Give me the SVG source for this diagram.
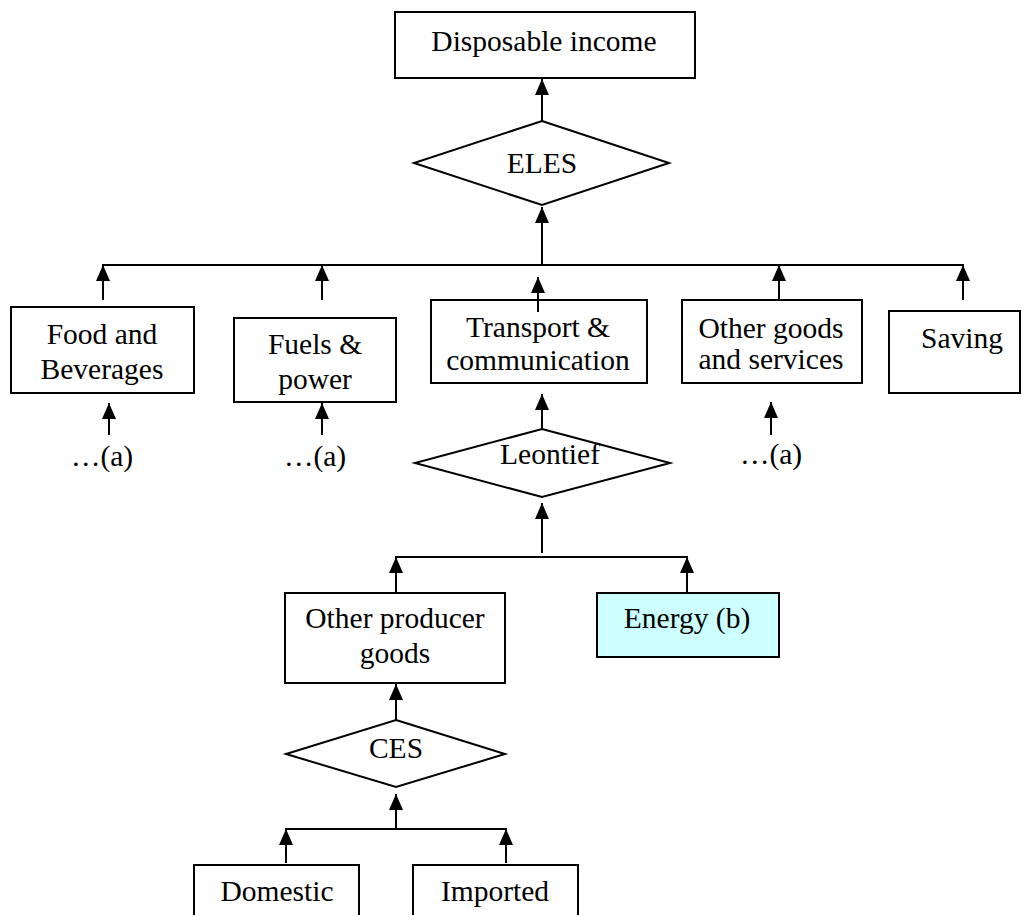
<svg xmlns="http://www.w3.org/2000/svg" width="1027" height="915" viewBox="0 0 1027 915">
<defs>
<marker id="ah" viewBox="0 0 16 14" refX="16" refY="7" markerWidth="16" markerHeight="14" markerUnits="userSpaceOnUse" orient="auto">
<path d="M0,0 L16,7 L0,14 z" fill="#000"/>
</marker>
<style>
.box{fill:#fff;stroke:#000;stroke-width:2}
.dia{fill:#fff;stroke:#000;stroke-width:2}
.en{fill:#ccffff;stroke:#000;stroke-width:2}
.t{font-family:"Liberation Serif","Times New Roman",serif;font-size:29.5px;fill:#000;text-anchor:middle}
.c line{stroke:#000;stroke-width:2;fill:none}
.a{marker-end:url(#ah)}
</style>
</defs>
<rect width="1027" height="915" fill="#fff"/>
<g id="n-disposable"><rect class="box" x="395" y="12" width="300" height="66"/><text class="t" x="544" y="51">Disposable income</text></g>
<g id="n-eles"><polygon class="dia" points="542,121 669,163 542,205 414,163"/><text class="t" x="542" y="173">ELES</text></g>
<g id="n-food"><rect class="box" x="11" y="307" width="183" height="86"/><text class="t" x="102" y="344">Food and</text><text class="t" x="102" y="379">Beverages</text></g>
<g id="n-fuels"><rect class="box" x="234" y="318" width="162" height="84"/><text class="t" x="315" y="354">Fuels &amp;</text><text class="t" x="315" y="389">power</text></g>
<g id="n-transport"><rect class="box" x="431" y="300" width="216" height="83"/><text class="t" x="538" y="337">Transport &amp;</text><text class="t" x="538" y="370">communication</text></g>
<g id="n-other"><rect class="box" x="682" y="300" width="180" height="83"/><text class="t" x="771" y="338">Other goods</text><text class="t" x="771" y="369">and services</text></g>
<g id="n-saving"><rect class="box" x="889" y="311" width="131" height="82"/><text class="t" x="962" y="348">Saving</text></g>
<g id="n-a1"><text class="t" x="102" y="466">…(a)</text></g>
<g id="n-a2"><text class="t" x="315" y="466">…(a)</text></g>
<g id="n-a3"><text class="t" x="771" y="464">…(a)</text></g>
<g id="n-leontief"><polygon class="dia" points="542,429 670,463 542,497 415,463"/><text class="t" x="550" y="464">Leontief</text></g>
<g id="n-opg"><rect class="box" x="285" y="593" width="220" height="90"/><text class="t" x="395" y="628">Other producer</text><text class="t" x="395" y="663">goods</text></g>
<g id="n-energy"><rect class="en" x="597" y="593" width="182" height="64"/><text class="t" x="687" y="628">Energy (b)</text></g>
<g id="n-ces"><polygon class="dia" points="396,720 505,754 396,787 286,754"/><text class="t" x="396" y="758">CES</text></g>
<g id="n-domestic"><rect class="box" x="194" y="865" width="165" height="60"/><text class="t" x="277" y="901">Domestic</text></g>
<g id="n-imported"><rect class="box" x="413" y="865" width="165" height="60"/><text class="t" x="495" y="901">Imported</text></g>
<g id="connectors" class="c">
<line class="a" x1="542" y1="121" x2="542" y2="79"/>
<line class="a" x1="542" y1="266" x2="542" y2="207"/>
<line x1="102" y1="265" x2="964" y2="265"/>
<line class="a" x1="103" y1="300" x2="103" y2="265"/>
<line class="a" x1="322" y1="300" x2="322" y2="265"/>
<line class="a" x1="538" y1="312" x2="538" y2="277"/>
<line class="a" x1="779" y1="300" x2="779" y2="265"/>
<line class="a" x1="963" y1="300" x2="963" y2="265"/>
<line class="a" x1="109" y1="435" x2="109" y2="403"/>
<line class="a" x1="322" y1="435" x2="322" y2="403"/>
<line class="a" x1="771" y1="435" x2="771" y2="402"/>
<line class="a" x1="542" y1="429" x2="542" y2="394"/>
<line class="a" x1="542" y1="553" x2="542" y2="503"/>
<line x1="395" y1="557" x2="688" y2="557"/>
<line class="a" x1="396" y1="592" x2="396" y2="557"/>
<line class="a" x1="687" y1="592" x2="687" y2="557"/>
<line class="a" x1="396" y1="720" x2="396" y2="684"/>
<line class="a" x1="396" y1="828" x2="396" y2="794"/>
<line x1="285" y1="829" x2="507" y2="829"/>
<line class="a" x1="286" y1="863" x2="286" y2="829"/>
<line class="a" x1="506" y1="863" x2="506" y2="829"/>
</g>
</svg>
